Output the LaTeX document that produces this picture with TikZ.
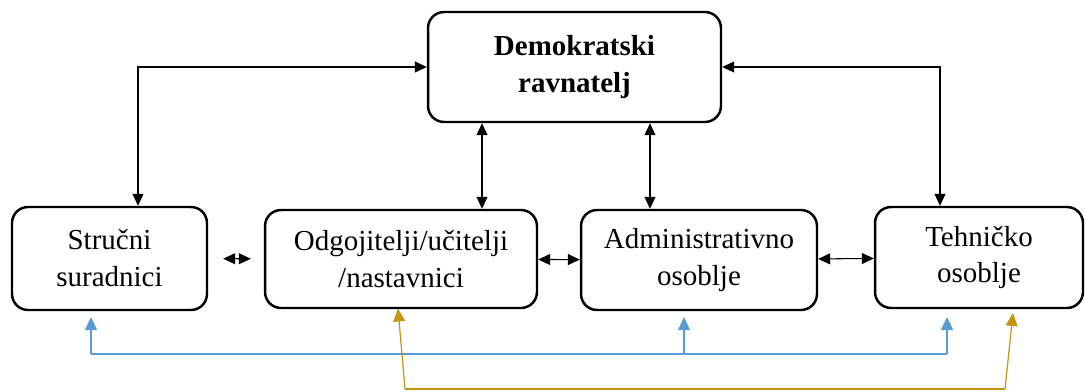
\documentclass[tikz,border=0pt]{standalone}
\usepackage{fontspec}
\setmainfont{Liberation Serif}
\usetikzlibrary{arrows.meta}

\definecolor{linkblue}{RGB}{91,155,213}
\definecolor{linkgold}{RGB}{196,150,20}

\tikzset{
  box/.style={draw,line width=1.4pt,rounded corners=0.32cm,align=center,inner sep=0pt,
    font=\fontsize{16.5}{21}\selectfont},
  tip/.style={Triangle[length=0.24cm,width=0.22cm]},
  dbl/.style={line width=0.6pt,{Triangle[length=0.24cm,width=0.22cm]}-{Triangle[length=0.24cm,width=0.22cm]}},
  blu/.style={linkblue,line width=0.6pt},
  gld/.style={linkgold,line width=0.7pt}
}

\begin{document}
\begin{tikzpicture}[x=0.02cm,y=-0.02cm]
        \useasboundingbox (0,0) rectangle (1085,392);
        % boxes
        \node[box,minimum width=5.86cm,minimum height=2.2cm] (dem) at (574.5,67) {\textbf{Demokratski}\\\textbf{ravnatelj}};
        \node[box,minimum width=3.9cm,minimum height=2.06cm] (sru) at (109.5,258.5) {Stručni\\suradnici};
        \node[box,minimum width=5.44cm,minimum height=1.96cm] (odg) at (401,259) {Odgojitelji/učitelji\\/nastavnici};
        \node[box,minimum width=4.72cm,minimum height=2cm] (adm) at (699,260) {Administrativno\\osoblje};
        \node[box,minimum width=4.16cm,minimum height=2.02cm] (teh) at (979,257.5) {Tehničko\\osoblje};
        % links to the top
        \draw[dbl] ([xshift=0.57cm]sru.north) |- (dem.west);
        \draw[dbl] ([xshift=-0.78cm]teh.north) |- (dem.east);
        \draw[dbl] ([xshift=-1.85cm]dem.south) -- ([xshift=-1.85cm]dem.south |- odg.north);
        \draw[dbl] ([xshift=1.51cm]dem.south) -- ([xshift=1.51cm]dem.south |- adm.north);
        % links in the row
        \draw[dbl,shorten <=0.3cm,shorten >=0.26cm] (sru) -- (odg);
        \draw[dbl] (odg) -- (adm);
        \draw[dbl] (adm) -- (teh);
        % blue line
        \coordinate (bl) at (91,354);
        \coordinate (bm) at (684,354);
        \coordinate (br) at (947,354);
        \draw[blu] (bl) -- (br);
        \draw[blu,-{Triangle[length=0.26cm,width=0.24cm]}] (bl) -- (bl |- 0,317);
        \draw[blu,-{Triangle[length=0.26cm,width=0.24cm]}] (bm) -- (bm |- 0,317);
        \draw[blu,-{Triangle[length=0.26cm,width=0.24cm]}] (br) -- (br |- 0,317);
        % gold line
        \coordinate (gl) at (405,389);
        \coordinate (gr) at (1005,389);
        \draw[gld] (gl) -- (gr);
        \draw[gld,-{Triangle[length=0.26cm,width=0.24cm]}] (gl) -- (398,308.5);
        \draw[gld,-{Triangle[length=0.26cm,width=0.24cm]}] (gr) -- (1013,313);
      \end{tikzpicture}
\end{document}
